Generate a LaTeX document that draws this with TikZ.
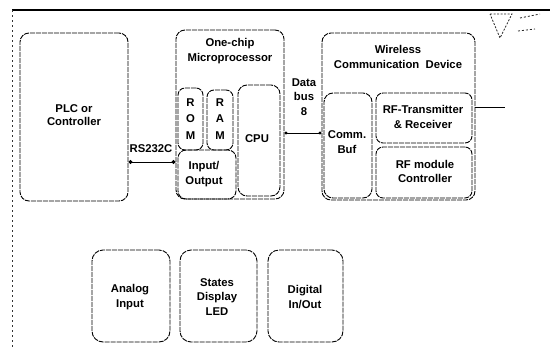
\documentclass[tikz,border=0pt]{standalone}
\usepackage{fontspec}
\setmainfont{Liberation Sans}
\usetikzlibrary{arrows.meta}
\begin{document}
\begin{tikzpicture}[x=1pt,y=-1pt,
  blk/.style={draw=black, line width=0.9pt, dash pattern=on 5pt off 1pt, rounded corners=9pt, inner sep=0pt},
  lbl/.style={font=\fontsize{11.3}{12.5}\selectfont\bfseries, align=center, inner sep=0pt, text=black},
  conn/.style={draw=black, line width=0.9pt}]
\useasboundingbox (0,0) rectangle (550,349);
% outer frame
\coordinate (ftl) at (12,10);
\coordinate (ftr) at (550,10);
\coordinate (fbl) at (12,349);
\draw[line width=1.1pt, black] (ftl) -- (ftr);
\draw[line width=0.8pt, black!80, dash pattern=on 2pt off 3pt] (ftl) -- (fbl);
% antenna
\coordinate (a1) at (490,14);
\coordinate (a2) at (512,14);
\coordinate (a3) at (500,38);
\draw[line width=0.8pt, black!85, dash pattern=on 2pt off 1.5pt] (a1) -- (a2) -- (a3) -- cycle;
\coordinate (m1) at (520,18);
\coordinate (m2) at (540,14);
\coordinate (m3) at (518,31);
\coordinate (m4) at (535,29);
\draw[line width=0.8pt, black!85, dash pattern=on 2pt off 2pt] (m1) -- (m2);
\draw[line width=0.8pt, black!85, dash pattern=on 2pt off 2pt] (m3) -- (m4);
% PLC
\node[blk, minimum width=108, minimum height=168] (plc) at (74,117) {};
\node[lbl] (plct) at (74,115) {PLC or\\[1pt]Controller};
% MCU
\node[blk, minimum width=108, minimum height=169] (mcu) at (230,114.5) {};
\node[lbl] (mcut) at (230,51) {One-chip\\[3pt]Microprocessor};
\node[blk, rounded corners=7pt, minimum width=25, minimum height=62] (rom) at (190.5,119) {};
\node[lbl] (romt) at (190.5,119) {R\\[4pt]O\\[4pt]M};
\node[blk, rounded corners=7pt, minimum width=26, minimum height=60] (ram) at (220,120) {};
\node[lbl] (ramt) at (220,119) {R\\[4pt]A\\[4pt]M};
\node[blk, rounded corners=8pt, minimum width=58, minimum height=49] (io) at (207,174.5) {};
\node[lbl] (iot) at (204,174) {Input/\\[2pt]Output};
\node[blk, rounded corners=9pt, minimum width=42, minimum height=111] (cpu) at (259,140.5) {};
\node[lbl] (cput) at (257,139) {CPU};
% Wireless
\node[blk, minimum width=153, minimum height=167] (wcd) at (398.5,116.5) {};
\node[lbl] (wcdt) at (398,57) {Wireless\\[3pt]Communication\ \ Device};
\node[blk, minimum width=48, minimum height=105] (buf) at (348,145.5) {};
\node[lbl] (buft) at (347,142) {Comm.\\[2pt]Buf};
\node[blk, rounded corners=7pt, minimum width=96, minimum height=50] (rft) at (424,118) {};
\node[lbl] (rftt) at (423,117) {RF-Transmitter\\[2pt]\&\ Receiver};
\node[blk, rounded corners=7pt, minimum width=96, minimum height=51] (rfc) at (424,172.5) {};
\node[lbl] (rfct) at (425,171.5) {RF module\\[2pt]Controller};
% lower blocks
\node[blk, rounded corners=11pt, minimum width=78, minimum height=92] (ana) at (131,296) {};
\node[lbl] (anat) at (130,297) {Analog\\[2pt]Input};
\node[blk, rounded corners=11pt, minimum width=77, minimum height=92] (led) at (218.5,296) {};
\node[lbl] (ledt) at (217,297) {States\\[2pt]Display\\[2pt]LED};
\node[blk, rounded corners=11pt, minimum width=75, minimum height=92] (dig) at (305.5,296) {};
\node[lbl] (digt) at (305,297) {Digital\\[2pt]In/Out};
% connectors
\path (plc.east) ++(0,45) coordinate (rsL);
\draw[conn, {Circle[length=4pt]}-{Circle[length=4pt]}] (rsL) -- (rsL -| mcu.west);
\node[lbl] (rslbl) at (151,149) {RS232C};
\path (mcu.east) ++(0,18.5) coordinate (dbL);
\draw[conn, {Circle[length=3pt]}-{Circle[length=3pt]}] (dbL) -- (dbL -| wcd.west);
\node[lbl] (dbt) at (304,97) {Data\\[2pt]bus\\[2pt]8};
\path (wcd.east) ++(0,-9.5) coordinate (rfL);
\coordinate (rfR) at (505,107);
\draw[conn] (rfL) -- (rfR);
\end{tikzpicture}
\end{document}
